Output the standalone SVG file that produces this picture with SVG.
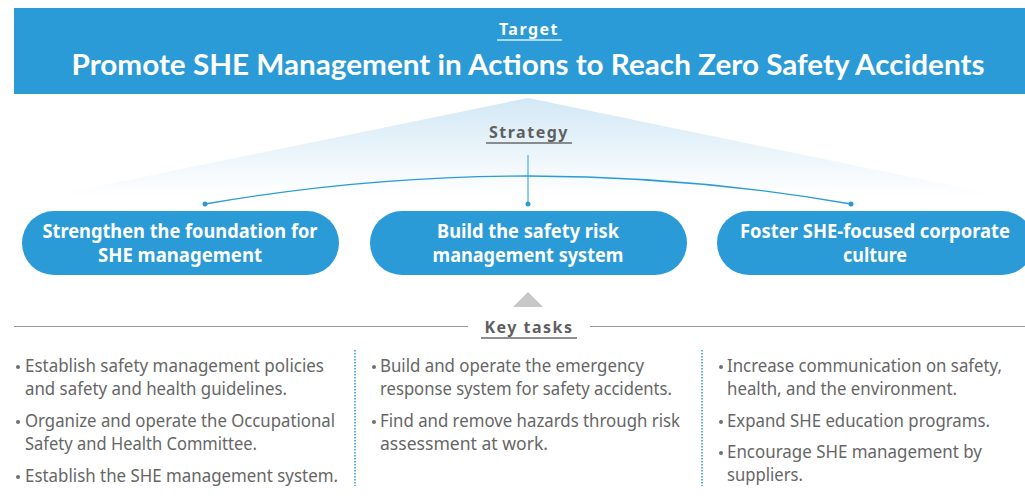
<svg xmlns="http://www.w3.org/2000/svg" width="1025" height="496" viewBox="0 0 1025 496">
<defs>
<linearGradient id="fan" x1="0" y1="0" x2="0" y2="1">
<stop offset="0" stop-color="#d2e8f5"/>
<stop offset="1" stop-color="#ffffff"/>
</linearGradient>
<style>
.pill{fill:#2a9bd6}
.pt{font-family:"Noto Sans","Liberation Sans",sans-serif;font-weight:bold;font-size:19px;fill:#ffffff;text-anchor:middle}
.hd{font-family:"Noto Sans","Liberation Sans",sans-serif;font-weight:bold;font-size:16px;letter-spacing:1.5px;text-anchor:middle}
.bt{font-family:"Noto Sans","Liberation Sans",sans-serif;font-size:18px;fill:#666666}
.bd{fill:#707070}
.dot{fill:#2a9bd6}
</style>
</defs>
<rect width="1025" height="496" fill="#ffffff"/>

<g id="target">
<rect x="14" y="8" width="1011" height="86" fill="#2a9bd6"/>
<text class="hd" x="529" y="35" fill="#ffffff">Target</text>
<line x1="497" y1="40" x2="562" y2="40" stroke="#a9d8f1" stroke-width="2"/>
<text x="528" y="75" font-family="Lato,'Noto Sans',sans-serif" font-weight="bold" font-size="29" fill="#ffffff" text-anchor="middle" textLength="913" lengthAdjust="spacingAndGlyphs">Promote SHE Management in Actions to Reach Zero Safety Accidents</text>
</g>

<g id="strategy">
<polygon points="528,98 1003,196 50,196" fill="url(#fan)"/>
<text class="hd" x="529" y="138" fill="#5f5f5f">Strategy</text>
<line x1="486" y1="143" x2="572" y2="143" stroke="#6a6a6a" stroke-width="1.5"/>
</g>

<g id="connectors" fill="none">
<line x1="528" y1="155" x2="528" y2="204" stroke="#6cbde6" stroke-width="1.5"/>
<path d="M205,204 Q528,148 851,204" stroke="#2a9bd6" stroke-width="1.3"/>
<circle class="dot" cx="205" cy="204" r="2.5"/>
<circle class="dot" cx="528" cy="204" r="2.5"/>
<circle class="dot" cx="851" cy="204" r="2.5"/>
</g>

<g id="pill1">
<rect class="pill" x="22" y="211" width="317" height="64" rx="32"/>
<text class="pt" x="180" y="238" textLength="275" lengthAdjust="spacingAndGlyphs">Strengthen the foundation for</text>
<text class="pt" x="180" y="262" textLength="164" lengthAdjust="spacingAndGlyphs">SHE management</text>
</g>
<g id="pill2">
<rect class="pill" x="370" y="211" width="317" height="64" rx="32"/>
<text class="pt" x="528" y="238" textLength="182" lengthAdjust="spacingAndGlyphs">Build the safety risk</text>
<text class="pt" x="528" y="262" textLength="191" lengthAdjust="spacingAndGlyphs">management system</text>
</g>
<g id="pill3">
<rect class="pill" x="717" y="211" width="317" height="64" rx="32"/>
<text class="pt" x="875" y="238" textLength="270" lengthAdjust="spacingAndGlyphs">Foster SHE-focused corporate</text>
<text class="pt" x="875" y="262" textLength="64" lengthAdjust="spacingAndGlyphs">culture</text>
</g>

<g id="keytasks">
<polygon points="528,292 543,307 513,307" fill="#c8c8c8"/>
<line x1="14" y1="326.5" x2="468" y2="326.5" stroke="#9a9a9a" stroke-width="1"/>
<line x1="590" y1="326.5" x2="1025" y2="326.5" stroke="#9a9a9a" stroke-width="1"/>
<text class="hd" x="529" y="333" fill="#5f5f5f">Key tasks</text>
<line x1="481" y1="338" x2="577" y2="338" stroke="#6a6a6a" stroke-width="1.5"/>
</g>

<g id="dividers" stroke="#2a9bd6" stroke-width="1.5" stroke-dasharray="1.5 1.5">
<line x1="355" y1="350" x2="355" y2="486"/>
<line x1="702" y1="350" x2="702" y2="486"/>
</g>

<g id="col1">
<circle class="bd" cx="18" cy="367" r="2"/>
<text class="bt" x="25" y="372" textLength="299" lengthAdjust="spacingAndGlyphs">Establish safety management policies</text>
<text class="bt" x="25" y="395" textLength="262" lengthAdjust="spacingAndGlyphs">and safety and health guidelines.</text>
<circle class="bd" cx="18" cy="422" r="2"/>
<text class="bt" x="25" y="427" textLength="310" lengthAdjust="spacingAndGlyphs">Organize and operate the Occupational</text>
<text class="bt" x="25" y="450" textLength="232" lengthAdjust="spacingAndGlyphs">Safety and Health Committee.</text>
<circle class="bd" cx="18" cy="477" r="2"/>
<text class="bt" x="25" y="482" textLength="313" lengthAdjust="spacingAndGlyphs">Establish the SHE management system.</text>
</g>

<g id="col2">
<circle class="bd" cx="374" cy="367" r="2"/>
<text class="bt" x="380" y="372" textLength="264" lengthAdjust="spacingAndGlyphs">Build and operate the emergency</text>
<text class="bt" x="380" y="395" textLength="292" lengthAdjust="spacingAndGlyphs">response system for safety accidents.</text>
<circle class="bd" cx="374" cy="422" r="2"/>
<text class="bt" x="380" y="427" textLength="300" lengthAdjust="spacingAndGlyphs">Find and remove hazards through risk</text>
<text class="bt" x="380" y="450" textLength="168" lengthAdjust="spacingAndGlyphs">assessment at work.</text>
</g>

<g id="col3">
<circle class="bd" cx="721" cy="367" r="2"/>
<text class="bt" x="727" y="372" textLength="275" lengthAdjust="spacingAndGlyphs">Increase communication on safety,</text>
<text class="bt" x="727" y="395" textLength="230" lengthAdjust="spacingAndGlyphs">health, and the environment.</text>
<circle class="bd" cx="721" cy="422" r="2"/>
<text class="bt" x="727" y="427" textLength="263" lengthAdjust="spacingAndGlyphs">Expand SHE education programs.</text>
<circle class="bd" cx="721" cy="453" r="2"/>
<text class="bt" x="727" y="458" textLength="255" lengthAdjust="spacingAndGlyphs">Encourage SHE management by</text>
<text class="bt" x="727" y="481" textLength="76" lengthAdjust="spacingAndGlyphs">suppliers.</text>
</g>
</svg>
